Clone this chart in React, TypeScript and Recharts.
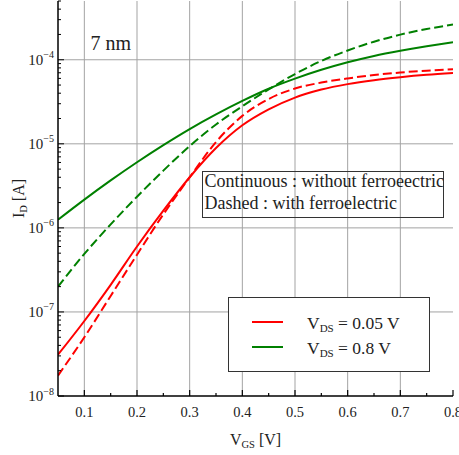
import React from "react";
import { LineChart, Line, XAxis, YAxis, CartesianGrid, Legend } from "recharts";

// V_GS sweep [V]
const VGS = [0.05, 0.1, 0.15, 0.2, 0.25, 0.3, 0.35, 0.4, 0.45, 0.5, 0.55, 0.6, 0.65, 0.7, 0.75, 0.8];

// I_D [A], V_DS = 0.05 V
const RED_SOLID = [3.1e-8, 7.8e-8, 2.1e-7, 6.0e-7, 1.6e-6, 4.0e-6, 8.9e-6, 1.66e-5, 2.57e-5, 3.55e-5, 4.42e-5, 5.13e-5, 5.71e-5, 6.19e-5, 6.61e-5, 6.95e-5];
const RED_DASHED = [1.75e-8, 5.0e-8, 1.55e-7, 4.8e-7, 1.45e-6, 4.0e-6, 1.05e-5, 2.15e-5, 3.41e-5, 4.55e-5, 5.35e-5, 6.0e-5, 6.58e-5, 7.05e-5, 7.41e-5, 7.69e-5];
// I_D [A], V_DS = 0.8 V
const GREEN_SOLID = [1.25e-6, 2.17e-6, 3.67e-6, 6.04e-6, 9.66e-6, 1.5e-5, 2.24e-5, 3.24e-5, 4.52e-5, 5.96e-5, 7.59e-5, 9.33e-5, 1.11e-4, 1.28e-4, 1.45e-4, 1.62e-4];
const GREEN_DASHED = [2.0e-7, 4.9e-7, 1.1e-6, 2.35e-6, 4.8e-6, 9.4e-6, 1.7e-5, 2.8e-5, 4.44e-5, 6.76e-5, 9.68e-5, 1.29e-4, 1.64e-4, 1.99e-4, 2.32e-4, 2.62e-4];

const X_TICKS = [0.1, 0.15, 0.2, 0.25, 0.3, 0.35, 0.4, 0.45, 0.5, 0.55, 0.6, 0.65, 0.7, 0.75, 0.8];
const X_GRID = [0.1, 0.2, 0.3, 0.4, 0.5, 0.6, 0.7];
const Y_MAJOR = [1e-8, 1e-7, 1e-6, 1e-5, 1e-4];
const Y_GRID = [1e-7, 1e-6, 1e-5, 1e-4];
const Y_DOMAIN: [number, number] = [1e-8, 5e-4];

const RED = "#ff0000";
const GREEN = "#008000";
const FONT = '"Liberation Serif", "Times New Roman", serif';
const INK = "#222";

const data = VGS.map((v, i) => ({
  v,
  redSolid: RED_SOLID[i],
  redDashed: RED_DASHED[i],
  greenSolid: GREEN_SOLID[i],
  greenDashed: GREEN_DASHED[i],
}));

// all y ticks: decades + 2..9 minors
const Y_TICKS: number[] = [];
Y_MAJOR.forEach((d) => {
  for (let k = 1; k <= 9; k++) {
    const t = k * d;
    if (t <= Y_DOMAIN[1] * 1.0001) Y_TICKS.push(t);
  }
});

const isMajorX = (v: number) => Math.abs(v * 10 - Math.round(v * 10)) < 1e-6;
const isMajorY = (v: number) => Math.abs(Math.log10(v) - Math.round(Math.log10(v))) < 1e-6;

// ─── ticks (drawn inward, matplotlib style) ──────────────────────────────────
function BottomTick({ x, y, payload }: any) {
  const major = isMajorX(payload.value);
  return (
    <g>
      <line x1={x} x2={x} y1={y} y2={y - (major ? 6 : 3)} stroke="#000" strokeWidth={1.2} />
      {major && (
        <text x={x} y={y + 21} textAnchor="middle" fontFamily={FONT} fontSize={14.5} fill={INK}>
          {payload.value.toFixed(1)}
        </text>
      )}
    </g>
  );
}

function TopTick({ x, y, payload }: any) {
  const major = isMajorX(payload.value);
  return <line x1={x} x2={x} y1={y} y2={y + (major ? 6 : 3)} stroke="#000" strokeWidth={1.2} />;
}

function LeftTick({ x, y, payload }: any) {
  const v = payload.value;
  const major = isMajorY(v);
  const e = Math.round(Math.log10(v));
  return (
    <g>
      <line x1={x} x2={x + (major ? 6 : 3)} y1={y} y2={y} stroke="#000" strokeWidth={1} />
      {major && (
        <text x={x - 4} y={y + 5} textAnchor="end" fontFamily={FONT} fontSize={15} fill={INK}>
          <tspan>10</tspan>
          <tspan dy={-6.5} fontSize={10}>{`\u2212${-e}`}</tspan>
        </text>
      )}
    </g>
  );
}

function RightTick({ x, y, payload }: any) {
  const major = isMajorY(payload.value);
  return <line x1={x} x2={x - (major ? 6 : 3)} y1={y} y2={y} stroke="#000" strokeWidth={1} />;
}

// ─── legend ──────────────────────────────────────────────────────────────────
function LegendBox({ payload }: any) {
  const items = (payload || []).filter((p: any) => p.type !== "none");
  return (
    <svg width={202} height={75} style={{ display: "block" }}>
      <rect x={0.5} y={0.5} width={201} height={74} fill="#fff" stroke="#333" strokeWidth={1} />
      {items.map((p: any, i: number) => (
        <g key={p.value} transform={`translate(0, ${i * 25})`}>
          <line x1={24} x2={55} y1={25} y2={25} stroke={p.color} strokeWidth={2} />
          <text x={79} y={32} fontFamily={FONT} fontSize={17.5} fill={INK}>
            V<tspan dy={3} fontSize={11}>DS</tspan>
            <tspan dy={-3}>{` = ${p.value}`}</tspan>
          </text>
        </g>
      ))}
    </svg>
  );
}

const axisLine = { stroke: "#000", strokeWidth: 1.5 };

export default function App() {
  return (
    <div style={{ position: "absolute", left: 0, top: 0, width: 459, height: 455, background: "#fff" }}>
      <LineChart width={459} height={455} data={data} margin={{ top: 1, right: 6, bottom: 0, left: 0 }}>
        <CartesianGrid
          horizontalValues={Y_GRID}
          verticalValues={X_GRID}
          stroke="#a3a3a3"
          strokeWidth={1}
        />
        <XAxis
          dataKey="v" type="number" domain={[0.05, 0.8]} allowDataOverflow
          ticks={X_TICKS} interval={0} height={59}
          tickSize={0} tickMargin={0} tickLine={false} axisLine={axisLine}
          tick={(p: any) => <BottomTick {...p} />}
        />
        <XAxis
          xAxisId="top" orientation="top" dataKey="v" type="number" domain={[0.05, 0.8]} allowDataOverflow
          ticks={X_TICKS} interval={0} height={0}
          tickSize={0} tickMargin={0} tickLine={false} axisLine={axisLine}
          tick={(p: any) => <TopTick {...p} />}
        />
        <YAxis
          type="number" scale="log" domain={Y_DOMAIN} allowDataOverflow
          ticks={Y_TICKS} interval={0} width={58}
          tickSize={0} tickMargin={0} tickLine={false} axisLine={axisLine}
          tick={(p: any) => <LeftTick {...p} />}
        />
        <YAxis
          yAxisId="right" orientation="right" type="number" scale="log" domain={Y_DOMAIN} allowDataOverflow
          ticks={Y_TICKS} interval={0} width={0}
          tickSize={0} tickMargin={0} tickLine={false} axisLine={axisLine}
          tick={(p: any) => <RightTick {...p} />}
        />
        <Legend
          layout="horizontal" verticalAlign="middle" align="center"
          width={202} height={75}
          wrapperStyle={{ left: 228, top: 297, width: 202, height: 75 }}
          content={(p: any) => <LegendBox payload={p.payload} />}
        />
        <Line type="monotone" dataKey="redSolid" name="0.05 V" stroke={RED} strokeWidth={2} dot={false} isAnimationActive={false} />
        <Line type="monotone" dataKey="greenSolid" name="0.8 V" stroke={GREEN} strokeWidth={2} dot={false} isAnimationActive={false} />
        <Line type="monotone" dataKey="redDashed" legendType="none" stroke={RED} strokeWidth={2} strokeDasharray="9 4" dot={false} isAnimationActive={false} />
        <Line type="monotone" dataKey="greenDashed" legendType="none" stroke={GREEN} strokeWidth={2} strokeDasharray="9 4" dot={false} isAnimationActive={false} />
      </LineChart>

      <svg width={459} height={455} style={{ position: "absolute", left: 0, top: 0, pointerEvents: "none" }}>
        <text x={90.5} y={50} fontFamily={FONT} fontSize={20} fill={INK}>7 nm</text>

        <rect x={202.5} y={171.5} width={241} height={46} fill="none" stroke="#333" strokeWidth={1} />
        <text x={204.5} y={187} fontFamily={FONT} fontSize={18} fill={INK}>Continuous : without ferroeectric</text>
        <text x={204.5} y={208.5} fontFamily={FONT} fontSize={18} fill={INK}>Dashed : with ferroelectric</text>

        <text x={255.5} y={445} textAnchor="middle" fontFamily={FONT} fontSize={16} fill={INK}>
          V<tspan dy={3} fontSize={10.5}>GS</tspan><tspan dy={-3}> [V]</tspan>
        </text>
        <text transform="translate(24, 198.5) rotate(-90)" textAnchor="middle" fontFamily={FONT} fontSize={16} fill={INK}>
          I<tspan dy={3} fontSize={10.5}>D</tspan><tspan dy={-3}> [A]</tspan>
        </text>
      </svg>
    </div>
  );
}
